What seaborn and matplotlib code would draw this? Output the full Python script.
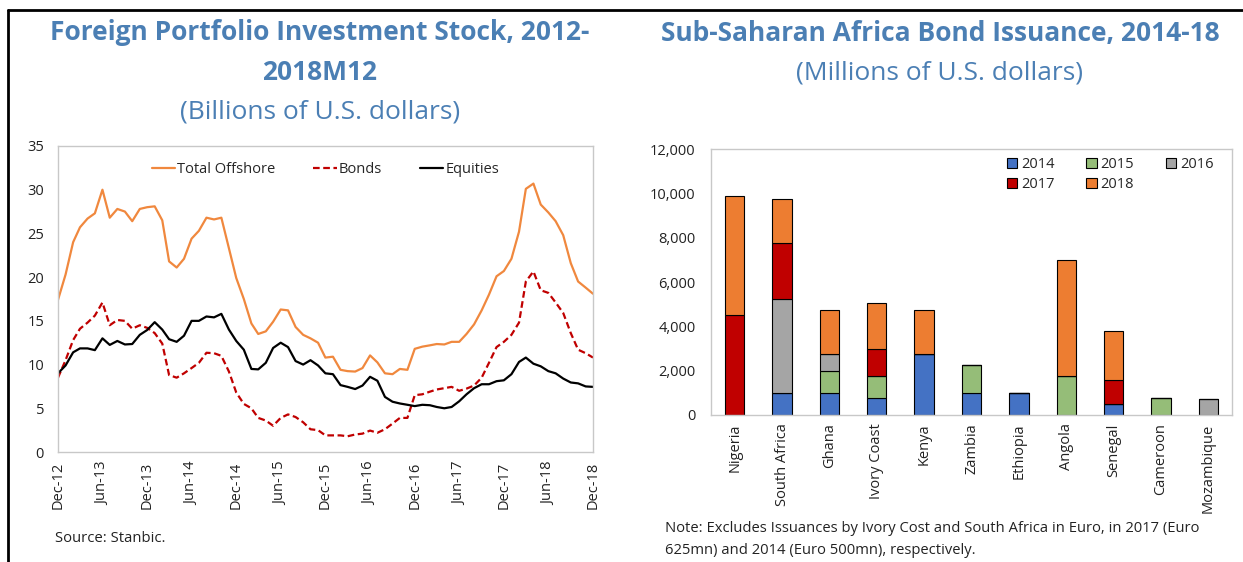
import matplotlib
matplotlib.use("Agg")
import matplotlib.pyplot as plt
from matplotlib.lines import Line2D
from matplotlib.patches import Patch
from matplotlib.ticker import FuncFormatter
import pandas as pd
import seaborn as sns

TITLE_COLOR = "#4B7FB4"
SPINE_COLOR = "#C8C8C8"

# left panel: monthly stock, Dec-12 .. Dec-18 (billions of US$)
MONTHS = pd.date_range(start="2012-12-01", periods=73, freq="MS")
total_offshore = [
    17.4, 20.3, 24.0, 25.7, 26.7, 27.3, 30.0, 26.8, 27.8, 27.5, 26.4, 27.8,
    28.0, 28.1, 26.5, 21.8, 21.1, 22.1, 24.4, 25.3, 26.8, 26.6, 26.8, 23.3,
    19.9, 17.5, 14.7, 13.5, 13.8, 14.9, 16.3, 16.2, 14.3, 13.4, 13.0, 12.5,
    10.8, 10.9, 9.4, 9.25, 9.2, 9.6, 11.05, 10.25, 9.0, 8.9, 9.5, 9.4,
    11.8, 12.05, 12.2, 12.35, 12.3, 12.6, 12.6, 13.5, 14.6, 16.2, 18.0, 20.1,
    20.7, 22.1, 25.2, 30.1, 30.7, 28.3, 27.4, 26.4, 24.8, 21.6, 19.5, 18.8,
    18.1,
]
bonds = [
    8.5, 10.5, 12.8, 14.1, 14.8, 15.6, 17.1, 14.5, 15.1, 15.0, 14.1, 14.5,
    14.2, 13.6, 12.4, 8.8, 8.5, 9.0, 9.6, 10.2, 11.35, 11.3, 11.0, 9.2,
    6.8, 5.5, 5.0, 3.9, 3.6, 3.0, 3.9, 4.3, 4.0, 3.4, 2.6, 2.5,
    1.9, 1.9, 1.9, 1.8, 2.0, 2.1, 2.45, 2.2, 2.6, 3.25, 3.9, 3.9,
    6.5, 6.6, 6.9, 7.15, 7.3, 7.45, 7.0, 7.25, 7.6, 8.5, 10.2, 12.0,
    12.6, 13.4, 14.8, 19.5, 20.65, 18.5, 18.2, 17.1, 15.9, 13.6, 11.7, 11.3,
    10.8,
]
equities = [
    9.0, 9.9, 11.4, 11.85, 11.85, 11.65, 13.0, 12.25, 12.7, 12.3, 12.35, 13.4,
    13.95, 14.85, 14.0, 12.9, 12.6, 13.3, 15.0, 15.0, 15.5, 15.4, 15.8, 14.0,
    12.7, 11.7, 9.5, 9.45, 10.2, 11.9, 12.5, 12.0, 10.4, 10.0, 10.5, 9.9,
    9.0, 8.9, 7.65, 7.45, 7.2, 7.6, 8.6, 8.15, 6.3, 5.75, 5.55, 5.4,
    5.25, 5.4, 5.35, 5.15, 5.0, 5.15, 5.8, 6.6, 7.3, 7.75, 7.75, 8.1,
    8.2, 8.9, 10.3, 10.8, 10.1, 9.8, 9.25, 9.0, 8.4, 7.95, 7.85, 7.5,
    7.45,
]

# right panel: bond issuance by country and year (millions of US$)
countries = ["Nigeria", "South Africa", "Ghana", "Ivory Coast", "Kenya", "Zambia",
             "Ethiopia", "Angola", "Senegal", "Cameroon", "Mozambique"]
years = ["2014", "2015", "2016", "2017", "2018"]
issuance_2014 = [0, 1000, 1000, 750, 2750, 1000, 1000, 0, 500, 0, 0]
issuance_2015 = [0, 0, 1000, 1000, 0, 1250, 0, 1750, 0, 750, 0]
issuance_2016 = [0, 4250, 750, 0, 0, 0, 0, 0, 0, 0, 730]
issuance_2017 = [4500, 2500, 0, 1250, 0, 0, 0, 0, 1100, 0, 0]
issuance_2018 = [5370, 2000, 2000, 2070, 2000, 0, 0, 5250, 2200, 0, 0]
year_colors = ["#4472C4", "#95BD78", "#A5A5A5", "#C00000", "#ED7D31"]


def style_box(ax):
    for side in ["left", "right", "top", "bottom"]:
        ax.spines[side].set_visible(True)
        ax.spines[side].set_color(SPINE_COLOR)
        ax.spines[side].set_linewidth(1.0)


def plot_stock(ax):
    lines = pd.DataFrame({"month": MONTHS, "total": total_offshore,
                          "bonds": bonds, "equities": equities})
    sns.lineplot(data=lines, x="month", y="total", ax=ax, color="#F0883E",
                 linewidth=1.6, label="Total Offshore")
    sns.lineplot(data=lines, x="month", y="bonds", ax=ax, color="#C00000",
                 linewidth=1.6, linestyle=(0, (3, 1.6)), label="Bonds")
    sns.lineplot(data=lines, x="month", y="equities", ax=ax, color="black",
                 linewidth=1.6, label="Equities")

    ax.set_xlim(MONTHS[0], MONTHS[-1])
    ax.set_ylim(0, 35)
    ax.set_yticks(range(0, 36, 5))
    ticks = MONTHS[::6]
    ax.set_xticks(ticks)
    ax.set_xticklabels([d.strftime("%b-%y") for d in ticks], rotation=90)
    ax.set_xlabel("")
    ax.set_ylabel("")
    ax.tick_params(axis="both", direction="in", length=4, color=SPINE_COLOR,
                   labelsize=10.5, labelcolor="#222222")
    ax.tick_params(axis="x", pad=7)
    ax.tick_params(axis="y", pad=10)
    style_box(ax)

    handles, labels = ax.get_legend_handles_labels()
    ax.legend(handles, labels, ncol=3, frameon=False, loc="center",
              bbox_to_anchor=(0.5, 0.922), fontsize=10.5, handlelength=1.6,
              handletextpad=0.15, columnspacing=2.6)


def plot_issuance(ax):
    stacks = [issuance_2014, issuance_2015, issuance_2016, issuance_2017, issuance_2018]
    bottom = [0] * len(countries)
    for vals, color in zip(stacks, year_colors):
        sns.barplot(x=countries, y=vals, bottom=bottom, ax=ax, color=color,
                    saturation=1, width=0.41, edgecolor="black", linewidth=0.8,
                    order=countries)
        bottom = [b + v for b, v in zip(bottom, vals)]

    ax.set_ylim(0, 12000)
    ax.set_yticks(range(0, 12001, 2000))
    ax.yaxis.set_major_formatter(FuncFormatter(lambda v, p: f"{int(v):,}"))
    ax.set_xlim(-0.5, len(countries) - 0.5)
    ax.tick_params(axis="x", rotation=90, length=0, labelsize=10.5,
                   labelcolor="#222222", pad=6)
    ax.tick_params(axis="y", length=0, labelsize=10.5, labelcolor="#222222", pad=11)
    ax.set_xlabel("")
    ax.set_ylabel("")
    style_box(ax)

    # legend reads row-wise: 2014 2015 2016 / 2017 2018 (matplotlib fills columns)
    patches = {y: Patch(facecolor=c, edgecolor="black", linewidth=0.8, label=y)
               for y, c in zip(years, year_colors)}
    handles = [patches[y] for y in ["2014", "2017", "2015", "2018", "2016"]]
    ax.legend(handles=handles, ncol=3, frameon=False, loc="center",
              bbox_to_anchor=(0.766, 0.904), fontsize=10.5, handlelength=0.7,
              handleheight=0.7, handletextpad=0.25, columnspacing=2.2,
              labelspacing=0.35)


def main():
    sns.set_theme(style="white")
    plt.rcParams["font.family"] = ["Open Sans", "DejaVu Sans"]

    fig = plt.figure(figsize=(12.43, 5.62), dpi=100)
    W, H = 1243, 562

    ax_left = fig.add_axes([58 / W, 1 - 452 / H, 535 / W, 306 / H])
    ax_right = fig.add_axes([711 / W, 1 - 415 / H, 521 / W, 266 / H])
    plot_stock(ax_left)
    plot_issuance(ax_right)

    fig.text(320 / W, 1 - 33 / H, "Foreign Portfolio Investment Stock, 2012-",
             ha="center", va="center", fontsize=19, fontweight="bold", color=TITLE_COLOR)
    fig.text(320 / W, 1 - 73 / H, "2018M12", ha="center", va="center",
             fontsize=19, fontweight="bold", color=TITLE_COLOR)
    fig.text(320 / W, 1 - 112 / H, "(Billions of U.S. dollars)", ha="center",
             va="center", fontsize=19, color=TITLE_COLOR)
    fig.text(940 / W, 1 - 33 / H, "Sub-Saharan Africa Bond Issuance, 2014-18",
             ha="center", va="center", fontsize=19, fontweight="bold", color=TITLE_COLOR)
    fig.text(940 / W, 1 - 73 / H, "(Millions of U.S. dollars)", ha="center",
             va="center", fontsize=19, color=TITLE_COLOR)

    fig.text(55 / W, 1 - 538 / H, "Source: Stanbic.", ha="left", va="center",
             fontsize=10.7, color="#222222")
    fig.text(665 / W, 1 - 528 / H,
             "Note: Excludes Issuances by Ivory Cost and South Africa in Euro, in 2017 (Euro",
             ha="left", va="center", fontsize=10.6, color="#222222")
    fig.text(665 / W, 1 - 551 / H, "625mn) and 2014 (Euro 500mn), respectively.",
             ha="left", va="center", fontsize=10.6, color="#222222")

    # outer frame lines
    fig.add_artist(Line2D([8 / W, 1], [1 - 10 / H, 1 - 10 / H], color="black", linewidth=2))
    fig.add_artist(Line2D([8 / W, 8 / W], [0, 1 - 10 / H], color="black", linewidth=2))

    fig.savefig("out.png", dpi=100)


if __name__ == "__main__":
    main()
